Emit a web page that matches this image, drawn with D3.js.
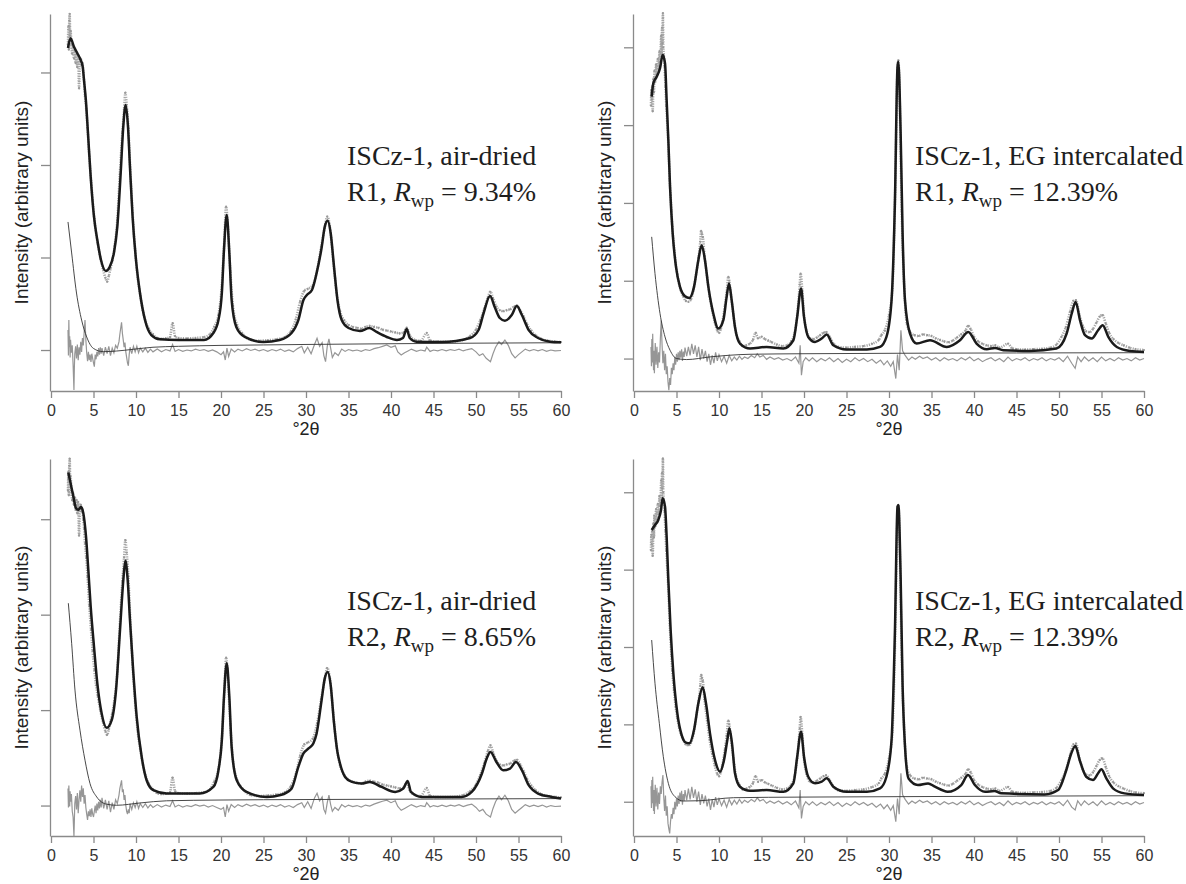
<!DOCTYPE html>
<html>
<head>
<meta charset="utf-8">
<script src="https://cdn.jsdelivr.net/npm/d3@7"></script>
<style>
  body { margin: 0; background: #fff; }
  svg { display: block; }
</style>
</head>
<body>
<svg id="chart" width="1186" height="884"></svg>
<script>
// 2theta (deg) / intensity (counts)

// observed patterns (same measurement for R1 and R2)
const obsAir = [[2.0,3300],[2.05,3500],[2.1,3250],[2.15,3560],[2.2,3632],[2.25,3400],[2.3,3450],[2.4,3300],[2.5,3200],[2.6,3280],[2.7,3150],[2.8,3230],[2.9,3100],[3.0,3200],[3.1,3060],[3.2,3180],[3.3,2830],[3.4,3120],[3.5,3150],[3.6,3080],[3.7,3100],[3.8,3000],[3.9,2900],[4.0,2750],[4.15,2600],[4.3,2400],[4.5,2100],[4.7,1850],[4.9,1620],[5.1,1420],[5.3,1260],[5.5,1150],[5.8,1000],[6.1,880],[6.4,780],[6.6,740],[6.8,800],[7.0,880],[7.2,960],[7.5,1130],[7.8,1400],[8.1,1900],[8.4,2350],[8.6,2600],[8.75,2780],[8.9,2650],[9.1,2400],[9.3,2000],[9.6,1480],[9.9,1080],[10.2,780],[10.5,590],[10.8,430],[11.1,320],[11.5,230],[12.0,170],[12.5,130],[13.0,120],[13.5,125],[14.0,140],[14.3,290],[14.6,150],[15,130],[16,125],[17,130],[18,140],[18.7,170],[19.2,250],[19.7,380],[20.1,700],[20.4,1200],[20.6,1549],[20.8,1350],[21.1,850],[21.4,480],[21.9,270],[22.5,180],[23.5,110],[24.5,100],[25.5,105],[26.5,115],[27.5,140],[28.2,200],[28.8,330],[29.3,520],[29.8,640],[30.2,660],[30.8,700],[31.3,860],[31.8,1120],[32.2,1320],[32.5,1441],[32.8,1340],[33.2,970],[33.6,620],[34.0,420],[34.5,320],[35.0,270],[35.5,250],[36.0,240],[36.5,230],[37.0,250],[37.5,260],[38.0,250],[38.5,240],[39.0,220],[39.5,210],[40.0,200],[40.5,190],[41.0,180],[41.5,190],[41.85,240],[42.2,160],[42.8,110],[43.5,100],[44.2,184],[44.6,100],[45.5,90],[47,90],[48.5,110],[49.3,150],[50.0,220],[50.5,320],[51.0,450],[51.4,570],[51.7,630],[52.0,560],[52.4,470],[52.8,430],[53.2,420],[53.6,430],[54.0,440],[54.5,470],[54.8,480],[55.2,430],[55.6,360],[56.0,280],[56.5,210],[57.0,160],[57.7,120],[58.5,100],[59.3,90],[60,85]];

const obsEg = [[2.0,3250],[2.05,3450],[2.1,3330],[2.15,3500],[2.2,3180],[2.3,3600],[2.35,3420],[2.4,3700],[2.5,3560],[2.6,3780],[2.7,3650],[2.8,3850],[2.9,3720],[3.0,3950],[3.1,3820],[3.2,4150],[3.25,3900],[3.3,4250],[3.35,4050],[3.4,4437],[3.45,4000],[3.5,3900],[3.6,3750],[3.7,3500],[3.8,3250],[3.9,3050],[4.0,2850],[4.1,2600],[4.2,2300],[4.3,2100],[4.4,1900],[4.5,1700],[4.7,1450],[4.9,1230],[5.1,1080],[5.3,960],[5.5,880],[5.8,800],[6.1,740],[6.4,730],[6.7,760],[7.0,880],[7.3,1080],[7.6,1300],[7.8,1500],[7.9,1640],[8.0,1600],[8.1,1560],[8.3,1320],[8.6,1050],[8.9,800],[9.2,620],[9.5,470],[9.8,360],[10.0,330],[10.2,380],[10.4,470],[10.7,680],[10.9,850],[11.1,1050],[11.2,1000],[11.4,820],[11.7,560],[12.0,330],[12.4,220],[12.8,160],[13.2,170],[13.6,190],[14.0,240],[14.3,330],[14.6,260],[15.0,280],[15.4,250],[15.8,230],[16.2,210],[16.8,180],[17.4,160],[18.0,170],[18.5,220],[18.9,330],[19.2,560],[19.5,950],[19.6,1093],[19.8,870],[20.0,560],[20.3,360],[20.7,260],[21.1,250],[21.5,270],[21.9,300],[22.3,330],[22.6,340],[23.0,280],[23.5,190],[24.0,150],[25,140],[26,150],[27,160],[28,190],[28.8,240],[29.1,300],[29.5,360],[30.0,560],[30.4,900],[30.7,2000],[31.0,3700],[31.1,3830],[31.3,3100],[31.5,1900],[31.8,900],[32.1,450],[32.5,340],[33.0,300],[33.5,290],[34.0,310],[34.5,300],[35.0,290],[35.5,260],[36.0,240],[36.5,220],[37.0,210],[37.5,230],[38.0,270],[38.5,310],[39.0,360],[39.3,420],[39.6,380],[40.0,280],[40.5,220],[41.0,190],[41.5,170],[42,160],[42.5,170],[43,140],[44,190],[44.5,130],[45,120],[46,115],[47,120],[48,125],[49,140],[49.7,180],[50.3,280],[50.8,400],[51.3,600],[51.7,740],[52.0,750],[52.4,560],[52.8,420],[53.2,350],[53.6,340],[54.0,380],[54.4,460],[54.8,540],[55.1,560],[55.5,450],[55.9,330],[56.4,250],[57.0,200],[57.6,170],[58.3,140],[59,120],[60,110]];

// calculated profiles
const fitAirR1 = [[2.0,3265],[2.3,3370],[2.7,3279],[3.1,3208],[3.4,3154],[3.73,3063],[3.88,2919],[4.1,2703],[4.35,2346],[4.67,1870],[5.06,1438],[5.45,1189],[5.88,973],[6.45,854],[6.9,897],[7.4,1049],[7.8,1330],[8.2,1914],[8.5,2411],[8.78,2649],[9.06,2411],[9.29,1978],[9.6,1438],[10.0,973],[10.47,616],[11.06,324],[11.8,162],[12.8,116],[15,108],[18,108],[19.1,184],[19.7,324],[20.1,616],[20.35,1081],[20.67,1459],[20.98,1049],[21.25,541],[21.8,249],[22.8,141],[25,86],[26.9,108],[28.3,184],[29.1,324],[29.7,541],[30.1,595],[30.7,649],[31.25,832],[31.85,1114],[32.2,1330],[32.55,1398],[32.9,1265],[33.3,897],[33.7,541],[34.2,324],[35.0,238],[36.35,205],[37.45,238],[38.3,195],[39.5,141],[40.7,108],[41.4,130],[41.85,227],[42.2,130],[43.0,90],[46,86],[49.3,130],[50.3,216],[50.9,400],[51.65,584],[52.2,465],[52.8,346],[53.4,317],[54.2,378],[54.8,476],[55.4,378],[56.2,216],[57.3,130],[58.7,90],[60,83]];

const fitAirR2 = [[2.04,3490],[2.3,3379],[2.63,3238],[2.94,3116],[3.2,3099],[3.53,3127],[3.8,3064],[4.12,2818],[4.39,2469],[4.67,2084],[5.06,1664],[5.45,1280],[5.96,965],[6.55,814],[7.14,895],[7.65,1210],[8.12,1839],[8.51,2364],[8.75,2567],[9.02,2364],[9.29,1944],[9.69,1385],[10.08,930],[10.67,510],[11.25,265],[12.04,161],[13.6,126],[17.5,126],[19.1,195],[19.7,370],[20.1,685],[20.35,1140],[20.67,1490],[20.98,1140],[21.25,615],[21.85,265],[23.0,143],[25.4,90],[27,110],[28.3,178],[29.1,405],[29.7,546],[30.3,598],[30.86,651],[31.25,756],[31.85,1114],[32.2,1330],[32.55,1400],[32.9,1265],[33.3,860],[33.7,560],[34.0,441],[34.6,300],[35.4,248],[36.55,231],[37.5,248],[38.9,195],[40.5,143],[41.45,178],[41.96,258],[42.35,143],[43.6,90],[48.3,90],[49.5,143],[50.7,336],[51.26,493],[51.7,562],[52.4,457],[53.2,370],[54.0,388],[54.7,457],[55.4,370],[56.2,213],[57.3,126],[58.9,90],[60,73]];

const fitEgR1 = [[2.08,3365],[2.27,3537],[2.67,3622],[3.06,3730],[3.37,3901],[3.65,3794],[3.84,3322],[4.04,2808],[4.24,2207],[4.55,1608],[4.94,1178],[5.41,921],[6.0,801],[6.51,779],[7.06,921],[7.57,1264],[7.96,1457],[8.35,1264],[8.75,921],[9.33,579],[9.92,386],[10.51,493],[10.9,792],[11.18,965],[11.49,750],[11.88,406],[12.47,193],[13.65,129],[15.6,149],[17.57,129],[18.75,235],[19.2,535],[19.65,900],[20.0,535],[20.5,278],[21.3,214],[22.08,257],[22.67,309],[23.45,171],[25.0,116],[27.4,116],[28.94,149],[29.7,278],[30.3,750],[30.7,2036],[31.0,3750],[31.1,3815],[31.37,2894],[31.6,1608],[31.88,750],[32.47,322],[33.25,193],[34.82,235],[36.8,149],[38.35,235],[39.33,342],[40.3,193],[41.5,120],[42.47,136],[43.45,107],[46.6,98],[49.7,129],[50.9,322],[51.5,579],[51.96,728],[52.47,493],[53.06,300],[53.85,257],[54.6,364],[55.14,428],[55.8,278],[56.8,149],[58.35,98],[60,85]];

const fitEgR2 = [[2.08,3513],[2.47,3577],[2.86,3642],[3.18,3771],[3.37,3922],[3.65,3814],[3.84,3426],[4.04,2866],[4.31,2220],[4.63,1660],[5.1,1143],[5.61,862],[6.12,763],[6.51,755],[7.06,927],[7.57,1272],[8.08,1479],[8.47,1272],[8.94,884],[9.53,539],[10.12,388],[10.59,539],[10.98,798],[11.22,949],[11.53,755],[11.88,367],[12.47,194],[13.65,142],[15.6,151],[17.57,129],[18.75,238],[19.2,582],[19.65,905],[20.0,582],[20.5,323],[21.3,238],[22.08,259],[22.67,302],[23.45,194],[25.0,129],[27.4,129],[28.94,173],[29.7,323],[30.3,798],[30.7,2220],[31.0,3814],[31.1,3835],[31.37,2900],[31.6,1500],[31.88,720],[32.3,300],[33.4,216],[34.6,237],[35.4,194],[36.9,129],[38.5,216],[39.3,345],[40.1,216],[41.3,129],[42.4,138],[43.2,108],[48.3,95],[49.9,151],[50.86,410],[51.45,626],[51.92,720],[52.43,539],[53.2,323],[54.0,281],[54.6,367],[54.98,419],[55.57,302],[56.35,173],[57.7,108],[60,86]];

// background curves
const bgAirR1 = [[2.0,1384],[2.43,1049],[3.0,616],[3.6,324],[4.2,141],[4.98,18],[6.15,-18],[7.7,-11],[9.7,8],[12,30],[15,40],[20,50],[25,55],[30,60],[40,68],[50,74],[60,79]];
const bgAirR2 = [[2.04,2120],[2.43,1700],[2.82,1210],[3.41,790],[4.0,475],[4.59,231],[5.38,90],[6.55,14],[7.73,3],[10.47,27],[13.6,50],[20,58],[30,63],[45,68],[60,73]];
const bgEgR1 = [[2.08,1564],[2.47,1093],[3.06,579],[3.65,278],[4.24,107],[5.02,0],[6.2,-13],[8.94,21],[13.65,55],[20,62],[31.3,68],[45,72],[60,75]];
const bgEgR2 = [[2.08,2090],[2.47,1531],[2.98,1013],[3.45,582],[4.04,238],[4.82,65],[5.8,9],[7.76,13],[11.7,52],[20,60],[30,65],[45,72],[60,78]];

// difference curves (obs - calc)
const diffAirR1 = [[2.0,216],[2.05,-60],[2.1,324],[2.15,30],[2.2,150],[2.25,-80],[2.3,110],[2.4,-30],[2.5,50],[2.6,-160],[2.7,-432],[2.75,-180],[2.8,-40],[2.9,40],[3.0,-90],[3.1,60],[3.2,-110],[3.3,30],[3.4,-50],[3.5,90],[3.6,-20],[3.7,130],[3.8,50],[3.9,190],[4.0,324],[4.1,110],[4.2,-30],[4.3,-120],[4.4,-20],[4.5,-110],[4.6,-50],[4.7,-130],[4.8,-40],[4.9,-90],[5.0,-140],[5.1,-180],[5.2,-50],[5.3,-100],[5.4,-20],[5.5,-70],[5.6,20],[5.7,-50],[5.8,30],[5.9,-40],[6.0,20],[6.2,-60],[6.4,30],[6.6,-40],[6.8,40],[7.0,-60],[7.2,20],[7.4,-30],[7.6,50],[7.8,20],[8.0,90],[8.1,170],[8.3,300],[8.4,180],[8.5,110],[8.6,30],[8.7,80],[8.8,-20],[8.9,-80],[9.0,-140],[9.1,-170],[9.2,-50],[9.3,30],[9.5,-40],[9.7,40],[9.9,-20],[10.1,40],[10.3,-30],[10.5,20],[10.8,-20],[11.1,20],[11.4,-25],[11.7,10],[12.0,-20],[12.5,10],[13.0,-20],[13.5,5],[14.0,-10],[14.3,60],[14.6,-15],[15.0,5],[15.5,-15],[16.0,0],[16.5,-10],[17.0,10],[17.5,-5],[18.0,5],[18.5,-15],[19.0,0],[19.5,-20],[20.0,-50],[20.3,-20],[20.5,-108],[20.7,20],[20.9,-70],[21.2,10],[21.6,-20],[22.0,10],[22.5,-10],[23.0,15],[23.5,-5],[24.0,10],[24.5,-10],[25.0,5],[25.5,-15],[26.0,5],[26.5,-10],[27.0,10],[27.5,-15],[28.0,0],[28.5,-20],[29.0,15],[29.5,40],[29.8,-30],[30.2,30],[30.6,-40],[31.0,60],[31.3,126],[31.6,40],[31.9,80],[32.1,-60],[32.3,-126],[32.5,40],[32.7,120],[32.9,20],[33.1,-80],[33.4,-30],[33.8,-60],[34.2,10],[34.6,-15],[35.0,5],[35.5,-10],[36.0,0],[36.5,-15],[37.0,5],[37.5,-5],[38.0,15],[38.5,25],[39.0,40],[39.5,54],[40.0,30],[40.5,45],[40.8,-20],[41.2,-54],[41.6,-30],[42.0,-10],[42.4,10],[43.0,-15],[43.5,0],[44.0,-10],[44.2,30],[44.6,-15],[45.0,0],[45.5,-10],[46.0,5],[46.5,-10],[47.0,5],[47.5,-5],[48.0,10],[48.5,-10],[49.0,5],[49.5,15],[50.0,-20],[50.4,-60],[50.8,-40],[51.2,-90],[51.7,-126],[52.0,-40],[52.3,30],[52.7,90],[53.0,60],[53.4,108],[53.8,50],[54.2,-40],[54.6,-86],[55.0,-50],[55.4,-20],[55.8,10],[56.3,-10],[56.8,5],[57.3,-10],[57.8,5],[58.3,-15],[58.8,0],[59.3,-10],[60.0,-5]];

const diffAirR2 = [[2.0,180],[2.05,-20],[2.1,210],[2.15,60],[2.2,-10],[2.25,150],[2.3,40],[2.4,120],[2.5,-60],[2.6,-120],[2.7,-319],[2.75,-150],[2.8,20],[2.9,100],[3.0,-40],[3.1,130],[3.2,-80],[3.3,60],[3.4,160],[3.5,40],[3.6,210],[3.7,90],[3.8,180],[3.9,20],[4.0,110],[4.1,-20],[4.2,-90],[4.3,-150],[4.4,-60],[4.5,-110],[4.6,-40],[4.7,-120],[4.8,-30],[4.9,-90],[5.0,-120],[5.1,-60],[5.2,0],[5.3,-80],[5.4,20],[5.5,-50],[5.6,40],[5.7,-30],[5.8,60],[5.9,-20],[6.0,80],[6.2,-30],[6.4,60],[6.6,-40],[6.8,50],[7.0,-70],[7.2,30],[7.4,-40],[7.6,60],[7.8,20],[8.0,110],[8.1,180],[8.3,265],[8.4,140],[8.5,170],[8.6,60],[8.7,110],[8.8,0],[8.9,-60],[9.0,-90],[9.1,-40],[9.2,-80],[9.3,20],[9.5,-40],[9.7,30],[9.9,-20],[10.1,40],[10.3,-30],[10.5,20],[10.8,-20],[11.1,20],[11.4,-25],[11.7,10],[12.0,-20],[12.5,10],[13.0,-15],[13.5,5],[14.0,-10],[14.3,50],[14.6,-15],[15.0,5],[15.5,-15],[16.0,0],[16.5,-10],[17.0,10],[17.5,-5],[18.0,5],[18.5,-15],[19.0,0],[19.5,-20],[20.0,-40],[20.3,-20],[20.5,-120],[20.7,10],[20.9,-60],[21.2,10],[21.6,-20],[22.0,10],[22.5,-10],[23.0,15],[23.5,-5],[24.0,10],[24.5,-10],[25.0,5],[25.5,-15],[26.0,5],[26.5,-10],[27.0,10],[27.5,-15],[28.0,0],[28.5,-20],[29.0,10],[29.5,30],[29.8,-20],[30.2,40],[30.6,-30],[31.0,80],[31.3,129],[31.6,50],[31.9,90],[32.1,-40],[32.3,-80],[32.5,30],[32.7,110],[32.9,10],[33.1,-60],[33.4,-20],[33.8,-50],[34.2,10],[34.6,-15],[35.0,5],[35.5,-10],[36.0,0],[36.5,-15],[37.0,5],[37.5,-5],[38.0,15],[38.5,30],[39.0,45],[39.5,56],[40.0,30],[40.5,50],[40.8,-10],[41.2,-50],[41.6,-30],[42.0,-10],[42.4,10],[43.0,-15],[43.5,0],[44.0,-10],[44.2,30],[44.6,-15],[45.0,0],[45.5,-10],[46.0,5],[46.5,-10],[47.0,5],[47.5,-5],[48.0,10],[48.5,-10],[49.0,5],[49.5,15],[50.0,-20],[50.4,-60],[50.8,-40],[51.2,-90],[51.7,-120],[52.0,-30],[52.3,40],[52.7,100],[53.0,60],[53.4,108],[53.8,50],[54.2,-40],[54.6,-80],[55.0,-50],[55.4,-20],[55.8,10],[56.3,-10],[56.8,5],[57.3,-10],[57.8,5],[58.3,-15],[58.8,0],[59.3,-10],[60.0,-5]];

const diffEgR1 = [[2.0,150],[2.05,-100],[2.1,250],[2.15,-50],[2.2,320],[2.25,0],[2.3,-150],[2.35,100],[2.4,-190],[2.5,200],[2.6,-80],[2.7,150],[2.8,-120],[2.9,80],[3.0,-50],[3.1,250],[3.2,493],[3.3,180],[3.4,-60],[3.5,100],[3.6,-150],[3.7,60],[3.8,-200],[3.9,-100],[4.0,-300],[4.1,-408],[4.2,-250],[4.3,-340],[4.4,-120],[4.5,-200],[4.6,-60],[4.7,-150],[4.8,20],[4.9,-80],[5.0,60],[5.1,-40],[5.2,80],[5.3,-20],[5.4,100],[5.5,10],[5.6,120],[5.7,-30],[5.8,90],[5.9,20],[6.0,140],[6.2,30],[6.4,150],[6.6,40],[6.8,190],[7.0,60],[7.2,170],[7.4,20],[7.6,150],[7.8,-20],[8.0,120],[8.2,0],[8.4,100],[8.6,-40],[8.8,60],[9.0,-80],[9.2,40],[9.4,-60],[9.6,80],[9.8,-30],[10.0,50],[10.3,-40],[10.6,30],[10.9,-60],[11.2,40],[11.5,-30],[11.8,20],[12.1,-20],[12.4,30],[12.7,-10],[13.0,20],[13.4,0],[13.8,40],[14.2,10],[14.5,60],[14.8,20],[15.2,40],[15.6,-10],[16.0,20],[16.5,-10],[17.0,10],[17.5,-20],[18.0,0],[18.5,-30],[19.0,20],[19.4,-60],[19.55,171],[19.7,-214],[19.9,-40],[20.2,10],[20.6,-30],[21.0,10],[21.5,-40],[22.0,0],[22.5,-30],[23.0,10],[23.5,-40],[24.0,0],[24.5,-50],[25.0,-10],[25.5,-40],[26.0,10],[26.5,-30],[27.0,0],[27.5,-40],[28.0,-10],[28.5,-60],[29.0,-20],[29.4,-80],[29.8,-30],[30.2,-100],[30.5,-40],[30.8,-257],[31.0,50],[31.2,-150],[31.4,364],[31.6,100],[31.9,40],[32.3,-20],[32.7,20],[33.1,-10],[33.6,30],[34.0,0],[34.5,20],[35.0,-20],[35.5,10],[36.0,-30],[36.5,10],[37.0,-20],[37.5,0],[38.0,-30],[38.5,10],[39.0,-20],[39.5,20],[40.0,-30],[40.5,0],[41.0,-40],[41.5,-10],[42.0,10],[42.5,-30],[43.0,0],[43.5,-40],[44.0,20],[44.5,-30],[45.0,0],[45.5,-20],[46.0,10],[46.5,-30],[47.0,0],[47.5,-20],[48.0,10],[48.5,-30],[49.0,0],[49.5,-20],[50.0,10],[50.5,-40],[51.0,30],[51.5,-60],[51.9,-125],[52.2,20],[52.6,-40],[53.0,20],[53.5,-30],[54.0,10],[54.5,-40],[55.0,20],[55.5,-30],[56.0,0],[56.5,-30],[57.0,10],[57.5,-20],[58.0,0],[58.5,-30],[59.0,10],[59.5,-20],[60.0,0]];

const diffEgR2 = [[2.0,200],[2.05,-80],[2.1,280],[2.15,-20],[2.2,323],[2.25,40],[2.3,-120],[2.35,150],[2.4,-160],[2.5,220],[2.6,-60],[2.7,180],[2.8,-100],[2.9,120],[3.0,-30],[3.1,200],[3.2,100],[3.3,250],[3.4,345],[3.5,60],[3.6,-120],[3.7,80],[3.8,-180],[3.9,-60],[4.0,-280],[4.1,-350],[4.2,-409],[4.3,-250],[4.4,-160],[4.5,-220],[4.6,-80],[4.7,-160],[4.8,0],[4.9,-100],[5.0,40],[5.1,-60],[5.2,80],[5.3,-30],[5.4,120],[5.5,0],[5.6,140],[5.7,-40],[5.8,100],[5.9,10],[6.0,150],[6.2,20],[6.4,170],[6.6,30],[6.8,194],[7.0,50],[7.2,160],[7.4,0],[7.6,130],[7.8,-40],[8.0,100],[8.2,-20],[8.4,80],[8.6,-60],[8.8,40],[9.0,-107],[9.2,30],[9.4,-70],[9.6,60],[9.8,-40],[10.0,40],[10.3,-50],[10.6,20],[10.9,-70],[11.2,30],[11.5,-40],[11.8,20],[12.1,-30],[12.4,30],[12.7,-20],[13.0,20],[13.4,-10],[13.8,30],[14.2,0],[14.5,50],[14.8,10],[15.2,30],[15.6,-20],[16.0,10],[16.5,-20],[17.0,10],[17.5,-30],[18.0,0],[18.5,-40],[19.0,10],[19.4,-80],[19.55,150],[19.7,-215],[19.9,-60],[20.2,0],[20.6,-40],[21.0,0],[21.5,-50],[22.0,-10],[22.5,-40],[23.0,0],[23.5,-50],[24.0,-10],[24.5,-60],[25.0,-20],[25.5,-50],[26.0,0],[26.5,-40],[27.0,-10],[27.5,-50],[28.0,-20],[28.5,-70],[29.0,-30],[29.4,-90],[29.8,-40],[30.2,-110],[30.5,-50],[30.8,-258],[31.0,40],[31.2,-160],[31.4,367],[31.6,90],[31.9,30],[32.3,-30],[32.7,10],[33.1,-20],[33.6,20],[34.0,-10],[34.5,10],[35.0,-30],[35.5,0],[36.0,-40],[36.5,0],[37.0,-30],[37.5,-10],[38.0,-40],[38.5,0],[39.0,-30],[39.5,10],[40.0,-40],[40.5,-10],[41.0,-50],[41.5,-20],[42.0,0],[42.5,-40],[43.0,-10],[43.5,-50],[44.0,10],[44.5,-40],[45.0,-10],[45.5,-30],[46.0,0],[46.5,-40],[47.0,-10],[47.5,-30],[48.0,0],[48.5,-40],[49.0,-10],[49.5,-30],[50.0,0],[50.5,-50],[51.0,20],[51.5,-70],[51.9,-107],[52.2,10],[52.6,-50],[53.0,10],[53.5,-40],[54.0,0],[54.5,-50],[55.0,10],[55.5,-40],[56.0,-10],[56.5,-40],[57.0,0],[57.5,-30],[58.0,-10],[58.5,-40],[59.0,0],[59.5,-30],[60.0,-10]];

// axis ticks and labels
const xTicks = [0,5,10,15,20,25,30,35,40,45,50,55,60];
const yTicksAir = [0,1000,2000,3000];
const yTicksEg = [0,1000,2000,3000,4000];
const sampleLabels = ["ISCz-1, air-dried", "ISCz-1, EG intercalated"];
const runLabels = ["R1", "R2"];
const rwpLabels = ["9.34%", "12.39%", "8.65%", "12.39%"];

// panel layout
const panels = [
  {left: 51, top: 14, yDom: [-443, 3632], yTicks: yTicksAir, obs: obsAir, fit: fitAirR1, bg: bgAirR1, diff: diffAirR1, sample: 0, run: 0, rwp: 0, tx: 347},
  {left: 634, top: 14, yDom: [-417, 4428], yTicks: yTicksEg, obs: obsEg, fit: fitEgR1, bg: bgEgR1, diff: diffEgR1, sample: 1, run: 0, rwp: 1, tx: 915},
  {left: 51, top: 459, yDom: [-319, 3631], yTicks: yTicksAir, obs: obsAir, fit: fitAirR2, bg: bgAirR2, diff: diffAirR2, sample: 0, run: 1, rwp: 2, tx: 347},
  {left: 634, top: 459, yDom: [-443, 4430], yTicks: yTicksEg, obs: obsEg, fit: fitEgR2, bg: bgEgR2, diff: diffEgR2, sample: 1, run: 1, rwp: 3, tx: 915}
];
const W = 510, H = 377;

const svg = d3.select("#chart");
svg.append("rect").attr("width", 1186).attr("height", 884).attr("fill", "#fff");

panels.forEach(p => {
  const x = d3.scaleLinear().domain([0, 60]).range([p.left, p.left + W]);
  const y = d3.scaleLinear().domain(p.yDom).range([p.top + H, p.top]);
  const g = svg.append("g");
  const line = d3.line().curve(d3.curveMonotoneX).x(d => x(d[0])).y(d => y(d[1]));

  // observed: dotted gray band + points
  g.append("path").datum(p.obs).attr("fill", "none").attr("stroke", "#a6a6a6")
    .attr("stroke-width", 2.6).attr("stroke-dasharray", "1.2 1.2").attr("d", line);
  g.append("g").selectAll("circle").data(p.obs).join("circle")
    .attr("cx", d => x(d[0])).attr("cy", d => y(d[1])).attr("r", 1.1).attr("fill", "#999");

  // difference
  g.append("path").datum(p.diff).attr("fill", "none").attr("stroke", "#969696")
    .attr("stroke-width", 1.2).attr("d", d3.line().x(d => x(d[0])).y(d => y(d[1])));

  // background
  g.append("path").datum(p.bg).attr("fill", "none").attr("stroke", "#333")
    .attr("stroke-width", 0.9).attr("d", line);

  // calculated
  g.append("path").datum(p.fit).attr("fill", "none").attr("stroke", "#1b1b1b")
    .attr("stroke-width", 2.5).attr("stroke-linejoin", "round").attr("d", line);

  // axes
  const xa = g.append("g").attr("transform", "translate(0," + (p.top + H) + ")")
    .call(d3.axisBottom(x).tickValues(xTicks).tickSize(7).tickSizeOuter(0).tickPadding(7));
  const ya = g.append("g").attr("transform", "translate(" + (p.left - 1) + ",0)")
    .call(d3.axisLeft(y).tickValues(p.yTicks).tickSize(9).tickSizeOuter(0).tickFormat(""));
  [xa, ya].forEach(a => {
    a.select(".domain").attr("stroke", "#8a8a8a").attr("stroke-width", 1.3);
    a.selectAll(".tick line").attr("stroke", "#8a8a8a").attr("stroke-width", 1.3);
  });
  xa.selectAll(".tick text").attr("fill", "#333").attr("font-family", "Liberation Sans, Arial, sans-serif")
    .attr("font-size", 16);

  g.append("text").attr("x", p.left + W / 2).attr("y", p.top + H + 44)
    .attr("text-anchor", "middle").attr("font-family", "Liberation Sans, Arial, sans-serif")
    .attr("font-size", 18).attr("fill", "#222").text("°2θ");

  g.append("text").attr("transform", "translate(" + (p.left - 23) + "," + (p.top + H / 2) + ") rotate(-90)")
    .attr("text-anchor", "middle").attr("font-family", "Liberation Sans, Arial, sans-serif")
    .attr("font-size", 19).attr("fill", "#222").text("Intensity (arbitrary units)");

  // annotation
  const ann = g.append("g").attr("font-family", "Liberation Serif, Times New Roman, serif")
    .attr("fill", "#1e1e1e").attr("font-size", 28);
  ann.append("text").attr("x", p.tx).attr("y", p.top + 151).text(sampleLabels[p.sample]);
  const t2 = ann.append("text").attr("x", p.tx).attr("y", p.top + 187);
  t2.append("tspan").text(runLabels[p.run] + ", ");
  t2.append("tspan").attr("font-style", "italic").text("R");
  t2.append("tspan").attr("font-size", 19).attr("dy", 6).text("wp");
  t2.append("tspan").attr("dy", -6).text(" = " + rwpLabels[p.rwp]);
});
</script>
</body>
</html>
